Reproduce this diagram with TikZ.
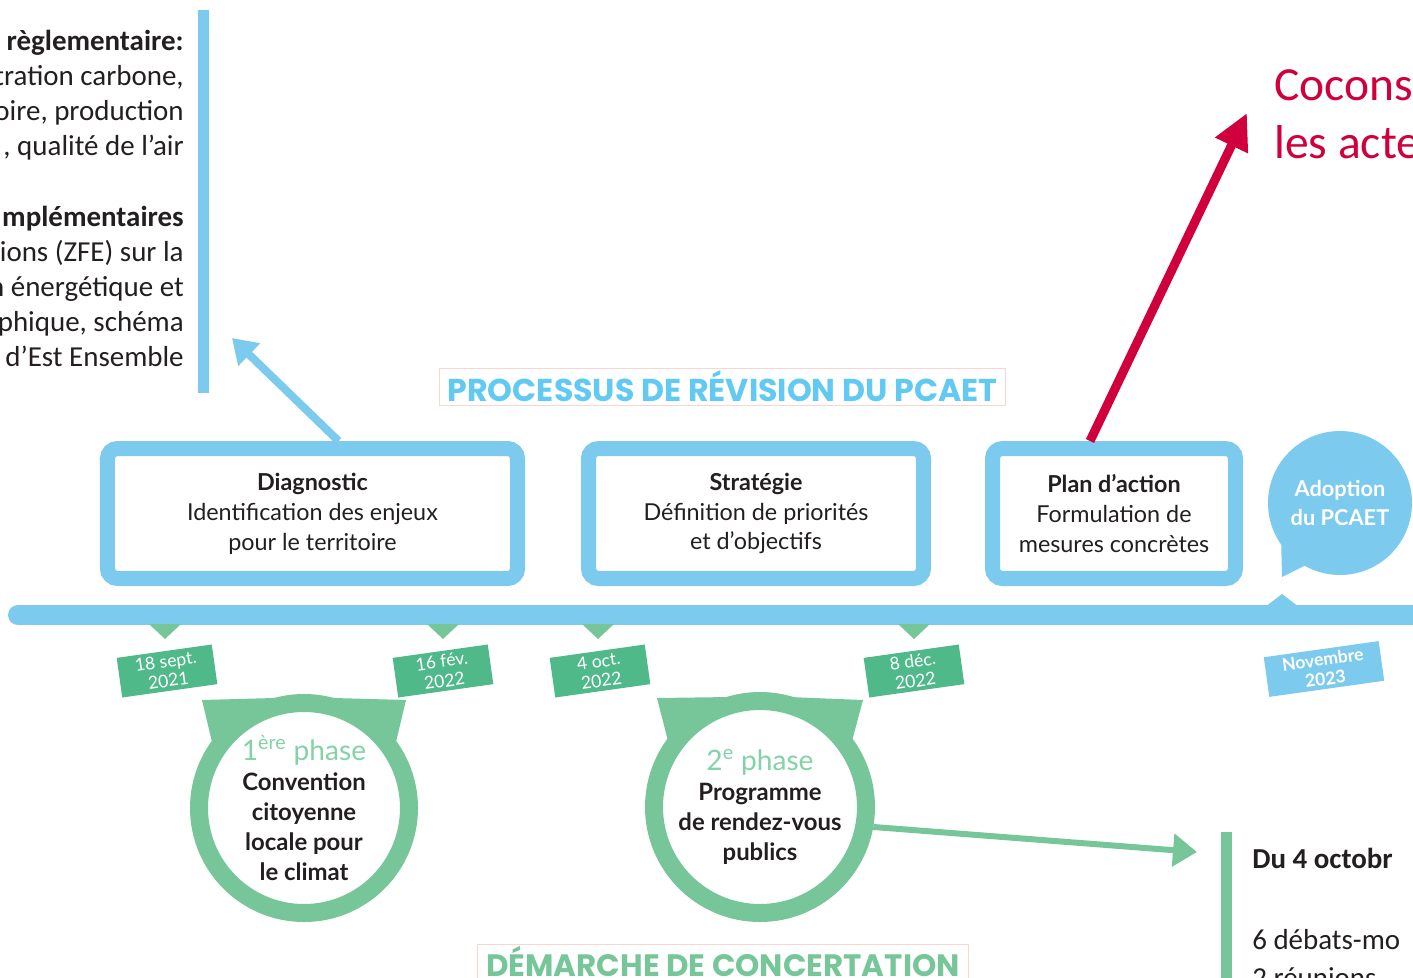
\documentclass[tikz,border=0pt]{standalone}
\usepackage{fontspec}
\setmainfont{Carlito}
\newfontfamily\boxfont{Lato}
\newfontfamily\headfont{Poppins}
\usetikzlibrary{arrows.meta,calc}
\definecolor{pblue}{RGB}{124,202,238}
\definecolor{hblue}{RGB}{98,201,242}
\definecolor{rgreen}{RGB}{119,198,153}
\definecolor{tgreen}{RGB}{80,185,138}
\definecolor{lgreen}{RGB}{132,210,168}
\definecolor{crimson}{RGB}{208,0,60}
\definecolor{dark}{RGB}{35,31,32}
\definecolor{pinkline}{RGB}{250,214,208}

\begin{document}
\begin{tikzpicture}[x=0.25mm,y=-0.25mm,
  etape/.style={draw=pblue,line width=3.75mm,fill=white,rounded corners=2.5mm,minimum height=32.5mm,align=center,text=dark,font=\boxfont\fontsize{16.6}{21.3}\selectfont},
  datebox/.style={fill=tgreen,text=white,rotate=8,minimum width=24mm,minimum height=10mm,inner sep=0pt,align=center,font=\boxfont\fontsize{12.5}{14}\selectfont},
  phase/.style={circle,draw=rgreen,line width=4.5mm,fill=white,inner sep=0pt,align=center,text=dark,font=\boxfont\fontsize{17}{21.3}\selectfont},
  titre/.style={draw=pinkline,line width=0.25mm,inner sep=0pt,font=\headfont\bfseries\fontsize{22.5}{22.5}\selectfont},
  sidetext/.style={inner sep=0pt,text=dark,font=\fontsize{20.6}{25}\selectfont}]
\useasboundingbox (0,0) rectangle (1413,977);
\clip (0,0) rectangle (1413,977);

\node (gauche) at (184,198.5) [sidetext,anchor=east,align=right] {\textbf{règlementaire:}\\tration carbone,\\oire, production\\, qualité de l’air\\\mbox{}\\\textbf{mplémentaires}\\ions (ZFE) sur la\\n énergétique et\\phique, schéma\\d’Est Ensemble};
\fill[pblue] (198,10) rectangle (209,393);

\node (cocons) at (1274,114) [anchor=west,align=left,inner sep=0pt,text=crimson,font=\fontsize{33.8}{41.3}\selectfont] {Cocons\\les acte};

\node (processus) at (722.5,386.5) [titre,text=hblue,minimum width=141.25mm,minimum height=9.25mm] {PROCESSUS DE RÉVISION DU PCAET};
\node (demarche) at (723,962) [titre,text=rgreen,minimum width=122.5mm,minimum height=9mm,font=\headfont\bfseries\fontsize{22}{22}\selectfont] {DÉMARCHE DE CONCERTATION};

\draw[pblue,line width=5mm,line cap=round] (18,615) -- (1430,615);
\fill[pblue] (1265,607) -- (1282,594) -- (1299,607) -- cycle;
\foreach \x in {165,443,598,914}
  \fill[rgreen] (\x-16,624) -- (\x+16,624) -- (\x,639) -- cycle;

\node (diag) at (312.5,513.5) [etape,minimum width=102.5mm] {\textbf{Diagnostic}\\Identification des enjeux\\pour le territoire};
\node (strat) at (756,513.5) [etape,minimum width=83.75mm] {\textbf{Stratégie}\\Définition de priorités\\et d’objectifs};
\node (plan) at (1114,513.5) [etape,minimum width=60.75mm] {\textbf{Plan d’action}\\Formulation de\\mesures concrètes};

\fill[pblue] (1282,577) -- (1281,535) -- (1312,562) -- cycle;
\node (adoption) at (1340,503) [circle,fill=pblue,minimum size=36mm,inner sep=0pt,align=center,text=white,font=\boxfont\bfseries\fontsize{15.5}{20.6}\selectfont] {Adoption\\du PCAET};

\node (d1) at (167,671) [datebox] {18 sept.\\2021};
\node (d2) at (443,671) [datebox] {16 fév.\\2022};
\node (d3) at (600,671) [datebox] {4 oct.\\2022};
\node (d4) at (914,671) [datebox] {8 déc.\\2022};
\node (d5) at (1324,669) [datebox,fill=pblue,minimum width=29mm,font=\boxfont\bfseries\fontsize{12.5}{14}\selectfont] {Novembre\\2023};

\fill[rgreen] (202,700) -- (212,742) -- (274,698) -- cycle;
\fill[rgreen] (406,700) -- (396,742) -- (334,698) -- cycle;
\fill[rgreen] (657,698) -- (668,741) -- (731,697) -- cycle;
\fill[rgreen] (863,700) -- (852,741) -- (789,697) -- cycle;
\node (ph1) at (304,808) [phase,minimum size=52.5mm] {{\color{lgreen}\fontsize{20}{21.3}\selectfont 1\textsuperscript{ère} phase}\\\textbf{Convention}\\\textbf{citoyenne}\\\textbf{locale pour}\\\textbf{le climat}};
\node (ph2) at (760,807) [phase,minimum size=53mm] {{\color{lgreen}\fontsize{20}{21.3}\selectfont 2\textsuperscript{e} phase}\\\textbf{Programme}\\\textbf{de rendez-vous}\\\textbf{publics}};

\coordinate (finbleu) at (232,338);
\coordinate (finrouge) at (1247,113);
\coordinate (finvert) at (1197,852);
\draw[pblue,line width=2mm,-{Triangle[width=7.5mm,length=6mm]}] ($(diag.north)+(26,0)$) -- (finbleu);
\draw[crimson,line width=2.25mm,-{Triangle[width=8.5mm,length=9mm]}] ($(plan.north)+(-24,0)$) -- (finrouge);
\draw[rgreen,line width=1.5mm,-{Triangle[width=8mm,length=6mm]}] (ph2.-10) -- (finvert);

\fill[rgreen] (1221,832) rectangle (1232,990);
\node (du) at (1252,858) [sidetext,anchor=west,font=\bfseries\fontsize{20.6}{25}\selectfont] {Du 4 octobr};
\node (debats) at (1252,940) [sidetext,anchor=west] {6 débats-mo};
\node (reunions) at (1252,978) [sidetext,anchor=west] {2 réunions};
\end{tikzpicture}
\end{document}
